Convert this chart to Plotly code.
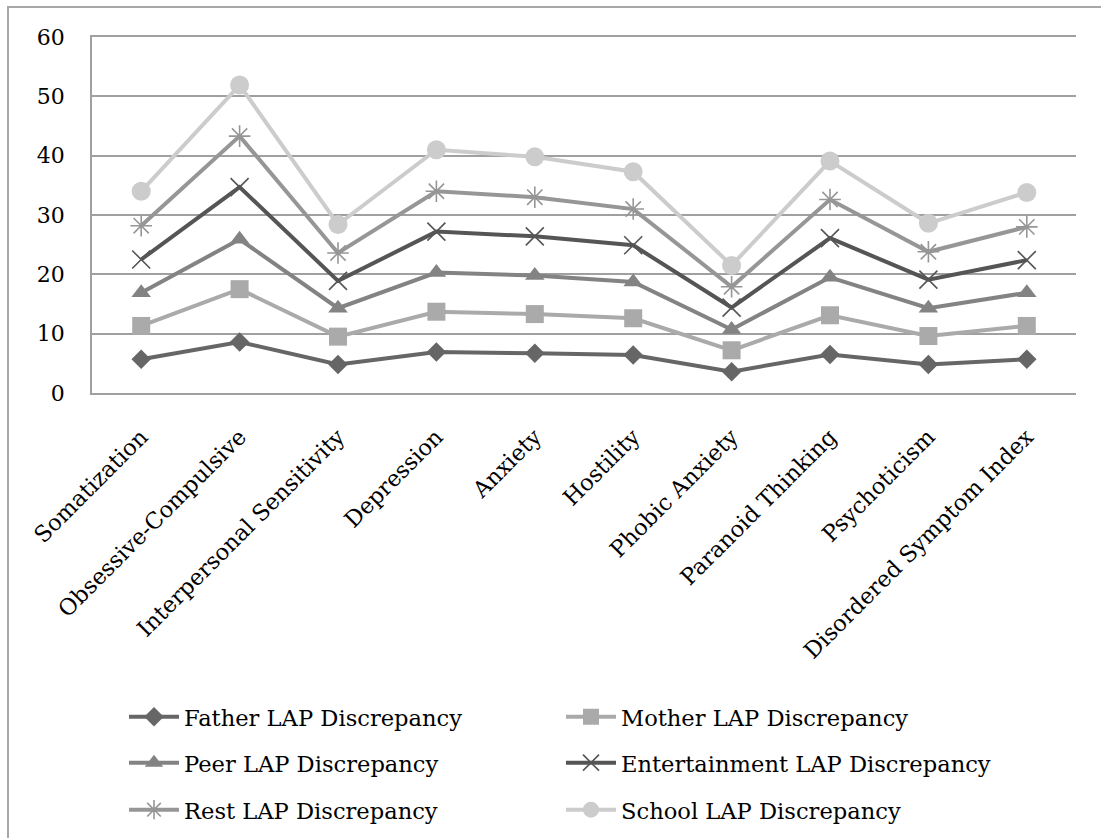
import plotly.graph_objects as go

categories = [
    "Somatization", "Obsessive-Compulsive", "Interpersonal Sensitivity",
    "Depression", "Anxiety", "Hostility", "Phobic Anxiety",
    "Paranoid Thinking", "Psychoticism", "Disordered Symptom Index",
]

# Per-source LAP discrepancy scores (stacked on top of each other)
father = [5.7, 8.6, 4.8, 6.9, 6.7, 6.4, 3.6, 6.5, 4.8, 5.7]
mother = [5.6, 8.9, 4.7, 6.8, 6.6, 6.2, 3.6, 6.6, 4.8, 5.6]
peer = [5.6, 8.4, 4.8, 6.6, 6.5, 6.1, 3.5, 6.4, 4.7, 5.6]
entertainment = [5.6, 8.8, 4.6, 6.9, 6.6, 6.2, 3.7, 6.6, 4.8, 5.5]
rest = [5.7, 8.6, 4.7, 6.8, 6.6, 6.1, 3.5, 6.5, 4.7, 5.6]
school = [5.8, 8.6, 4.8, 7.0, 6.8, 6.3, 3.6, 6.5, 4.8, 5.8]

y_ticks = [0, 10, 20, 30, 40, 50, 60]

FONT = "DejaVu Serif"

series = [
    ("Father LAP Discrepancy", father, "#666666", "diamond", 15, "legend"),
    ("Mother LAP Discrepancy", mother, "#aaaaaa", "square", 18, "legend"),
    ("Peer LAP Discrepancy", peer, "#838383", "triangle-up", 17, "legend2"),
    ("Entertainment LAP Discrepancy", entertainment, "#555555", "x-thin-open", 18, "legend2"),
    ("Rest LAP Discrepancy", rest, "#969696", "asterisk-open", 18, "legend3"),
    ("School LAP Discrepancy", school, "#cccccc", "circle", 19, "legend3"),
]

fig = go.Figure()
for name, vals, color, symbol, size, leg in series:
    thin = symbol.endswith("-open")
    fig.add_trace(go.Scatter(
        x=categories, y=vals, name=name,
        stackgroup="lap", fill="none",
        mode="lines+markers",
        line=dict(color=color, width=4),
        marker=dict(
            symbol=symbol, size=size, color=color,
            line=dict(color=color, width=1.6 if thin else 0),
        ),
        legend=leg,
    ))

grid = "#a0a0a0"
legend_common = dict(
    orientation="h", xanchor="left", yanchor="middle",
    font=dict(family=FONT, size=22.6, color="#000000"),
    entrywidth=372, bgcolor="rgba(0,0,0,0)", itemwidth=50,
    x=(124 - 92) / 984,
)

fig.update_layout(
    width=1101, height=838,
    margin=dict(l=92, r=25, t=37, b=445, autoexpand=False),
    paper_bgcolor="white", plot_bgcolor="white",
    font=dict(family=FONT, size=20, color="#000000"),
    showlegend=True,
    legend=dict(legend_common, y=(393 - 717) / 356),
    legend2=dict(legend_common, y=(393 - 763) / 356),
    legend3=dict(legend_common, y=(393 - 810) / 356),
    xaxis=dict(
        type="category", range=[-0.5, len(categories) - 0.5],
        tickangle=-45, showgrid=False, zeroline=False,
        showline=True, mirror=True, linecolor=grid, linewidth=1.5,
        ticks="", ticklabelstandoff=20,
        tickfont=dict(family=FONT, size=22.5),
    ),
    yaxis=dict(
        range=[0, 60], tickvals=y_ticks, showgrid=True, gridcolor=grid,
        gridwidth=1.5, zeroline=False, showline=True, linecolor=grid,
        linewidth=1.5, ticks="", ticklabelstandoff=21,
        tickfont=dict(family=FONT, size=22),
    ),
    shapes=[
        # outer chart frame
        dict(type="rect", xref="paper", yref="paper",
             x0=(8 - 92) / 984, x1=1.2, y0=-1.6, y1=(393 - 7) / 356,
             line=dict(color="#a8a8a8", width=2), layer="below"),
    ],
)

fig.write_html("out.html")
